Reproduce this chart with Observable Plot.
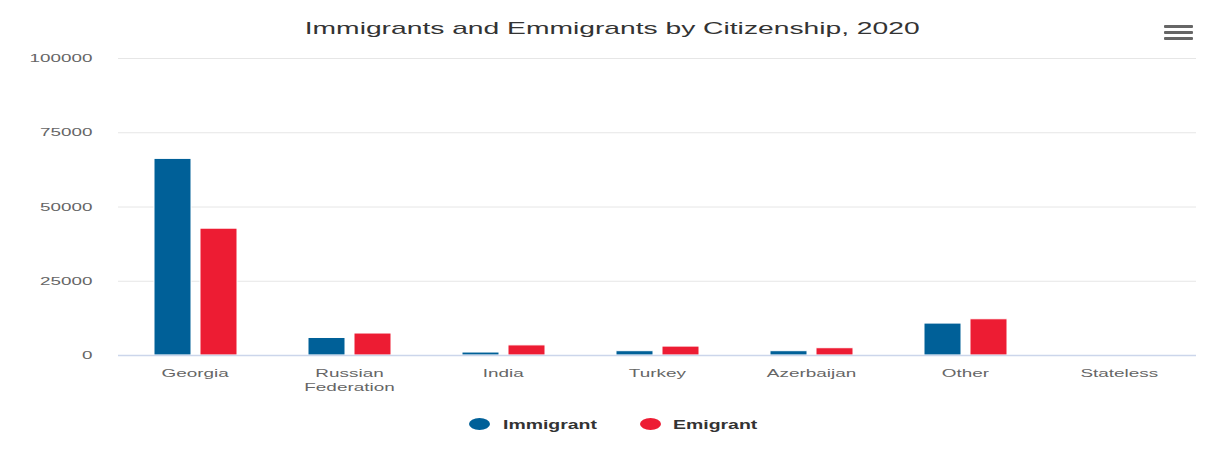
<!DOCTYPE html>
<html>
<head>
<meta charset="utf-8">
<script src="https://cdn.jsdelivr.net/npm/d3@7"></script>
<script src="https://cdn.jsdelivr.net/npm/@observablehq/plot@0.6"></script>
<style>
  body { margin: 0; background: #fff; font-family: "Liberation Sans", Arial, sans-serif; }
  #wrap { position: relative; width: 1205px; height: 449px; overflow: hidden; }
  #title { position: absolute; left: 10px; top: 17px; width: 1205px; text-align: center; font-size: 17px; color: #333; line-height: 24px; }
  #title span { display: inline-block; transform: scaleX(1.66); transform-origin: center; white-space: nowrap; }
  #chart { position: absolute; left: 0; top: 45px; }
  .burger { position: absolute; left: 1164px; width: 29px; height: 3px; background: #666; border-radius: 1px; }
  .sw { position: absolute; width: 21px; height: 12px; border-radius: 50%; }
  .lt { position: absolute; font-size: 12px; font-weight: bold; color: #333; line-height: 16px; transform: scaleX(1.62); transform-origin: left center; white-space: nowrap; }
</style>
</head>
<body>
<div id="wrap">
  <div id="title"><span></span></div>
  <div class="burger" style="top:25px"></div>
  <div class="burger" style="top:31px"></div>
  <div class="burger" style="top:37px"></div>
  <div id="chart"></div>
  <div id="legend"></div>
</div>
<script>
const title = "Immigrants and Emmigrants by Citizenship, 2020";
const categories = ["Georgia", "Russian Federation", "India", "Turkey", "Azerbaijan", "Other", "Stateless"];
const seriesNames = ["Immigrant", "Emigrant"];
const seriesColors = ["#006098", "#ed1c33"];
const immigrants = [66200, 5900, 1000, 1450, 1450, 10750, 0];
const emigrants = [42700, 7400, 3400, 3000, 2450, 12200, 0];
const yTicks = [0, 25000, 50000, 75000, 100000];

document.querySelector("#title span").textContent = title;

const rows = [];
categories.forEach((c, i) => {
  rows.push({category: c, series: seriesNames[0], value: immigrants[i]});
  rows.push({category: c, series: seriesNames[1], value: emigrants[i]});
});

const chart = Plot.plot({
  width: 1205,
  height: 355,
  marginTop: 13,
  marginBottom: 45,
  marginLeft: 118,
  marginRight: 9,
  style: {fontFamily: "'Liberation Sans', Arial, sans-serif", background: "white"},
  fx: {domain: categories, padding: 0, label: null},
  x: {domain: seriesNames, paddingInner: 0.2, paddingOuter: 0.77, axis: null},
  y: {domain: [0, 100000], label: null},
  color: {domain: seriesNames, range: seriesColors},
  marks: [
    Plot.ruleY(yTicks.slice(1), {stroke: "#e6e6e6", strokeWidth: 1}),
    Plot.barY(rows, {fx: "category", x: "series", y: "value", fill: "series", stroke: "white", strokeWidth: 1}),
    Plot.ruleY([0], {stroke: "#ccd6eb", strokeWidth: 1.5}),
    Plot.axisY({ticks: yTicks, tickSize: 0, tickPadding: 26, fontSize: 11.5, fill: "#666", tickFormat: d3.format("d"), label: null}),
    Plot.axisFx({anchor: "bottom", tickSize: 0, tickPadding: 11, fontSize: 11, fill: "#666", lineHeight: 1.3, label: null,
      tickFormat: d => d === "Russian Federation" ? "Russian\nFederation" : d})
  ]
});
document.getElementById("chart").appendChild(chart);

// horizontally widen text to match the reference's proportions
const texts = Array.from(chart.querySelectorAll("text"));
texts.forEach(el => {
  const isNum = /^\d+$/.test(el.textContent.trim());
  const s = isNum ? 1.64 : 1.72;
  const parent = el.parentNode;
  const r = el.getBoundingClientRect();
  const ax = isNum ? r.right : r.left + r.width / 2;
  const m = parent.getScreenCTM().inverse();
  const pt = chart.createSVGPoint();
  pt.x = ax; pt.y = r.top;
  const p = pt.matrixTransform(m);
  const g = document.createElementNS("http://www.w3.org/2000/svg", "g");
  g.setAttribute("transform", `translate(${p.x},0) scale(${s},1) translate(${-p.x},0)`);
  parent.insertBefore(g, el);
  g.appendChild(el);
});

// legend
const legend = document.getElementById("legend");
const swLeft = [469, 640];
const txtLeft = [503, 673];
seriesNames.forEach((n, i) => {
  const sw = document.createElement("div");
  sw.className = "sw";
  sw.style.left = swLeft[i] + "px";
  sw.style.top = "418px";
  sw.style.background = seriesColors[i];
  legend.appendChild(sw);
  const t = document.createElement("div");
  t.className = "lt";
  t.style.left = txtLeft[i] + "px";
  t.style.top = "417px";
  t.textContent = n;
  legend.appendChild(t);
});
</script>
</body>
</html>
